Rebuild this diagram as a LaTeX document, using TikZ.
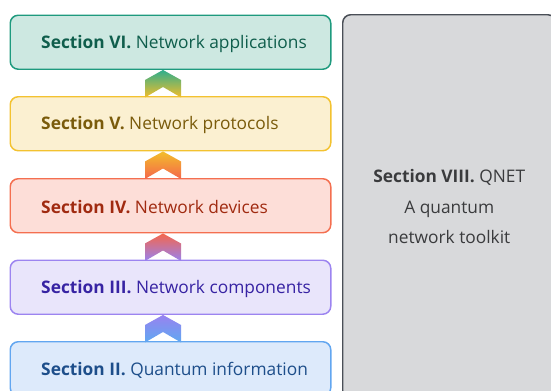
\documentclass[tikz,border=0pt]{standalone}
\usepackage{fontspec}
\setmainfont{Open Sans}
\usetikzlibrary{calc}
\definecolor{tealF}{HTML}{CDE8E1}
\definecolor{tealB}{HTML}{1E9A7E}
\definecolor{tealT}{HTML}{0F5E4C}
\definecolor{tealC}{HTML}{2FAE8C}
\definecolor{goldF}{HTML}{FBF0D1}
\definecolor{goldB}{HTML}{F3C230}
\definecolor{goldT}{HTML}{7A5B0B}
\definecolor{goldC}{HTML}{F3BE2A}
\definecolor{coralF}{HTML}{FDDED8}
\definecolor{coralB}{HTML}{F46F50}
\definecolor{coralT}{HTML}{A02A10}
\definecolor{coralC}{HTML}{F4664C}
\definecolor{purF}{HTML}{E9E5FB}
\definecolor{purB}{HTML}{9C84F0}
\definecolor{purT}{HTML}{3723A3}
\definecolor{purC}{HTML}{9882F0}
\definecolor{bluF}{HTML}{DDEAFB}
\definecolor{bluB}{HTML}{62A6F0}
\definecolor{bluT}{HTML}{1D4E8A}
\definecolor{bluC}{HTML}{5FA9F1}
\definecolor{grayF}{HTML}{D8D9DB}
\definecolor{grayB}{HTML}{4A4F57}
\definecolor{grayT}{HTML}{3A3B3D}
\begin{document}
\begin{tikzpicture}[x=0.75pt,y=-0.75pt,
  box/.style={draw, line width=1.1pt, rounded corners=6pt, minimum width=240.4pt,
    minimum height=40.5pt, inner sep=0pt, anchor=north west},
  lbl/.style={anchor=west, inner sep=0pt, font=\fontsize{13}{16}\selectfont},
  pics/chev/.style 2 args={code={
    \shade[top color=#1, bottom color=#2]
      (0,0) -- (18,10) -- (18,27.5) -- (0,17) -- (-18,27.5) -- (-18,10) -- cycle;}}
]
\useasboundingbox (0,0) rectangle (551,390);
\clip (0,0) rectangle (551,390);
\coordinate (cx) at (163,0);
% boxes
\node[box, draw=tealB, fill=tealF] (vi) at (9.5,14.5) {};
\node[box, draw=goldB, fill=goldF] (v) at (9.5,96) {};
\node[box, draw=coralB, fill=coralF] (iv) at (9.5,178) {};
\node[box, draw=purB, fill=purF] (iii) at (9.5,259.5) {};
\node[box, draw=bluB, fill=bluF] (ii) at (9.5,341) {};
% labels
\node[lbl, text=tealT] (vit) at ([xshift=23.6pt,yshift=-1.3pt]vi.west) {\textbf{Section VI.} Network applications};
\node[lbl, text=goldT] (vt) at ([xshift=23.6pt,yshift=-1.3pt]v.west) {\textbf{Section V.} Network protocols};
\node[lbl, text=coralT] (ivt) at ([xshift=23.6pt,yshift=-1.3pt]iv.west) {\textbf{Section IV.} Network devices};
\node[lbl, text=purT] (iiit) at ([xshift=23.6pt,yshift=-1.3pt]iii.west) {\textbf{Section III.} Network components};
\node[lbl, text=bluT] (iit) at ([xshift=23.6pt,yshift=-1.3pt]ii.west) {\textbf{Section II.} Quantum information};
% chevrons
\pic at (cx |- vi.south) {chev={tealC}{goldC}};
\pic at (cx |- v.south) {chev={goldC}{coralC}};
\pic at (cx |- iv.south) {chev={coralC}{purC}};
\pic at (cx |- iii.south) {chev={purC}{bluC}};
% right box
\node[draw=grayB, fill=grayF, line width=1.1pt, rounded corners=6pt, anchor=north west,
  minimum width=159.75pt, minimum height=288pt, inner sep=0pt] (viii) at (342,14) {};
\node[align=center, text=grayT, inner sep=0pt, font=\fontsize{13}{23}\selectfont] (viiit)
  at (viii.center) {\textbf{Section VIII.} QNET\\A quantum\\network toolkit};
\end{tikzpicture}
\end{document}
